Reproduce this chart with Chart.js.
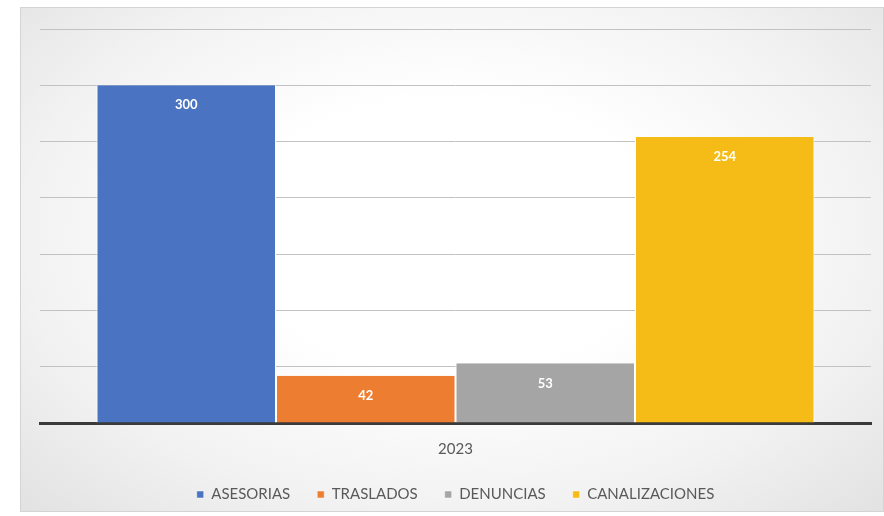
<!DOCTYPE html>
<html>
<head>
<meta charset="utf-8">
<script src="https://cdn.jsdelivr.net/npm/chart.js@4"></script>
<style>
  html, body { margin: 0; padding: 0; background: #ffffff; overflow: hidden; width: 884px; height: 516px; }
  #frame {
    position: absolute; left: 20px; top: 7px; width: 862px; height: 503px;
    border: 1px solid #d4d4d4;
    background: radial-gradient(ellipse at 50% 45%, #ffffff 35%, #f2f2f2 70%, #e2e2e2 100%);
  }
  #myChart { position: absolute; left: 21px; top: 8px; display: block; }
</style>
</head>
<body>
<div id="frame"></div>
<canvas id="myChart" width="862" height="504"></canvas>
<script>
const categories = ['2023'];
const seriesNames = ['ASESORIAS', 'TRASLADOS', 'DENUNCIAS', 'CANALIZACIONES'];
const seriesValues = [300, 42, 53, 254];
const seriesColors = ['#4a74c2', '#ed7d31', '#a5a5a5', '#f5bb16'];

// little plugin that writes the value inside the top of each bar
const barLabels = {
    id: 'barLabels',
    afterDatasetsDraw(chart) {
        const ctx = chart.ctx;
        ctx.save();
        ctx.font = 'bold 13px Lato';
        ctx.fillStyle = '#ffffff';
        ctx.textAlign = 'center';
        ctx.textBaseline = 'middle';
        chart.data.datasets.forEach(function(ds, i) {
            chart.getDatasetMeta(i).data.forEach(function(bar, j) {
                ctx.fillText(ds.data[j], bar.x, bar.y + 20);
            });
        });
        ctx.restore();
    }
};

let data = {
    labels: categories,
    datasets: seriesNames.map(function(name, i) {
        return {
            label: name,
            data: [seriesValues[i]],
            backgroundColor: seriesColors[i],
            borderColor: '#ffffff',
            borderWidth: { left: 1, right: 1, top: 0, bottom: 0 },
            borderSkipped: false
        };
    })
};

let config = {
    type: 'bar',
    data: data,
    options: {
        responsive: false,
        animation: false,
        layout: { padding: { top: 21, left: 19, right: 12, bottom: 0 } },
        datasets: {
            bar: { barPercentage: 1, categoryPercentage: 0.864 }
        },
        scales: {
            y: {
                min: 0,
                max: 350,
                ticks: { display: false, stepSize: 50 },
                grid: { color: '#c2c2c2', lineWidth: 1, drawTicks: false },
                border: { display: false }
            },
            x: {
                grid: { display: false },
                border: { color: '#3a3a3a', width: 3 },
                ticks: { color: '#595959', font: { family: 'Lato', size: 15 }, padding: 9 },
                afterFit: function(scale) { scale.height = 37; }
            }
        },
        plugins: {
            legend: {
                position: 'bottom',
                labels: {
                    color: '#595959',
                    font: { family: 'Lato', size: 15 },
                    boxWidth: 7,
                    boxHeight: 7,
                    padding: 27
                }
            },
            tooltip: { enabled: false }
        }
    },
    plugins: [barLabels]
};

const myChart = new Chart(document.getElementById('myChart'), config);
</script>
</body>
</html>
